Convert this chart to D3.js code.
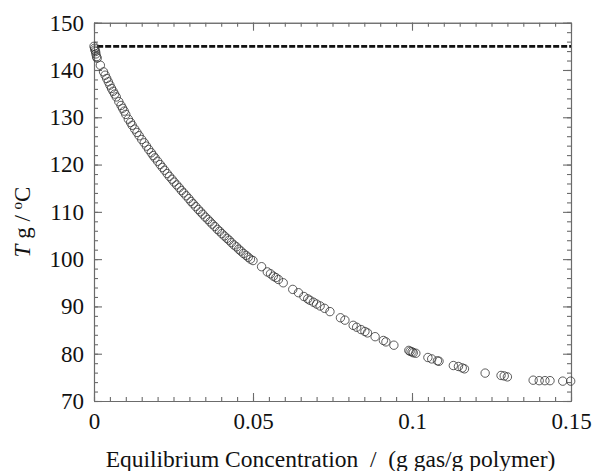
<!DOCTYPE html>
<html>
<head>
<meta charset="utf-8">
<script src="https://cdn.jsdelivr.net/npm/d3@7"></script>
<style>
  body { margin: 0; background: #fff; }
</style>
</head>
<body>
<div id="chart"></div>
<script>
// Equilibrium concentration (g gas / g polymer)
const conc = [
  0.0000, 0.0002, 0.0003, 0.0005, 0.0006, 0.0008, 0.0010, 0.0020, 0.0030, 0.0035,
  0.0040, 0.0045, 0.0050, 0.0055, 0.0060, 0.0065, 0.0070, 0.0078, 0.0085, 0.0090,
  0.0095, 0.0100, 0.0108, 0.0115, 0.0120, 0.0128, 0.0135, 0.0142, 0.0150, 0.0158,
  0.0165, 0.0172, 0.0180, 0.0186, 0.0192, 0.0200, 0.0208, 0.0215, 0.0222, 0.0230,
  0.0237, 0.0245, 0.0252, 0.0260, 0.0268, 0.0275, 0.0282, 0.0290, 0.0298, 0.0305,
  0.0312, 0.0320, 0.0328, 0.0335, 0.0342, 0.0350, 0.0358, 0.0365, 0.0372, 0.0380,
  0.0388, 0.0395, 0.0402, 0.0410, 0.0418, 0.0425, 0.0432, 0.0440, 0.0448, 0.0455,
  0.0462, 0.0470, 0.0478, 0.0485, 0.0492, 0.0500, 0.0527, 0.0545, 0.0555, 0.0564,
  0.0572, 0.0580, 0.0595, 0.0625, 0.0643, 0.0660, 0.0672, 0.0679, 0.0690, 0.0700,
  0.0711, 0.0725, 0.0742, 0.0775, 0.0789, 0.0815, 0.0826, 0.0840, 0.0852, 0.0860,
  0.0884, 0.0910, 0.0918, 0.0943, 0.0990, 0.0994, 0.1000, 0.1004, 0.1012, 0.1050,
  0.1062, 0.1080, 0.1085, 0.1130, 0.1146, 0.1158, 0.1165, 0.1230, 0.1280, 0.1290,
  0.1300, 0.1381, 0.1400, 0.1418, 0.1434, 0.1474, 0.1499
];
// Glass transition temperature (deg C)
const tg = [
  145.0, 144.6, 144.2, 143.9, 143.4, 142.8, 142.5, 141.0, 139.6, 138.9,
  138.2, 137.5, 136.8, 136.1, 135.5, 134.9, 134.3, 133.3, 132.5, 131.9,
  131.3, 130.6, 129.6, 128.9, 128.3, 127.5, 126.8, 126.1, 125.3, 124.6,
  123.9, 123.2, 122.5, 121.9, 121.4, 120.7, 120.0, 119.4, 118.8, 118.1,
  117.5, 116.9, 116.3, 115.7, 115.1, 114.5, 114.0, 113.4, 112.8, 112.2,
  111.7, 111.1, 110.5, 110.0, 109.5, 108.9, 108.4, 107.9, 107.4, 106.9,
  106.3, 105.9, 105.4, 104.9, 104.4, 104.0, 103.5, 103.0, 102.6, 102.1,
  101.7, 101.2, 100.8, 100.4, 100.0, 99.7, 98.4, 97.3, 96.9, 96.4,
  96.1, 95.7, 95.0, 93.6, 92.9, 92.1, 91.6, 91.3, 90.9, 90.5,
  90.1, 89.6, 88.9, 87.6, 87.1, 86.0, 85.6, 85.1, 84.7, 84.4,
  83.6, 82.8, 82.5, 81.8, 80.7, 80.5, 80.4, 80.2, 80.1, 79.2,
  78.9, 78.5, 78.4, 77.5, 77.3, 77.0, 76.8, 75.9, 75.4, 75.3,
  75.1, 74.4, 74.3, 74.3, 74.3, 74.2, 74.2
];
// Tg of the pure polymer (dashed reference line)
const tgPure = 145;

const xTicks = [0, 0.05, 0.1, 0.15];
const xTickLabels = ["0", "0.05", "0.1", "0.15"];
const yTicks = [70, 80, 90, 100, 110, 120, 130, 140, 150];

const width = 593, height = 471;
const margin = { top: 22.7, right: 22, bottom: 70, left: 94 };
const serif = "'Liberation Serif', 'Times New Roman', 'DejaVu Serif', serif";

const svg = d3.select("#chart").append("svg")
  .attr("width", width)
  .attr("height", height)
  .style("font-family", serif);

const x = d3.scaleLinear().domain([0, 0.15]).range([margin.left, width - margin.right]);
const y = d3.scaleLinear().domain([70, 150]).range([height - margin.bottom, margin.top]);

const xMinor = d3.range(0, 0.1501, 0.005);
const yMinor = d3.range(70, 150.01, 2);

// style helper for axes
function styleAxis(g) {
  g.attr("font-family", serif);
  g.selectAll("path.domain").attr("stroke", "#6b6b6b").attr("stroke-width", 1.1);
  g.selectAll(".tick line").attr("stroke", "#6b6b6b").attr("stroke-width", 1.1);
  g.selectAll("text").attr("font-size", 23).attr("fill", "#111").attr("font-family", serif);
}

// minor ticks
svg.append("g").attr("transform", `translate(0,${y(70)})`)
  .call(d3.axisBottom(x).tickValues(xMinor).tickSize(-4).tickSizeOuter(0).tickFormat(""))
  .call(styleAxis);
svg.append("g").attr("transform", `translate(0,${y(150)})`)
  .call(d3.axisTop(x).tickValues(xMinor).tickSize(-4).tickSizeOuter(0).tickFormat(""))
  .call(styleAxis);
svg.append("g").attr("transform", `translate(${x(0)},0)`)
  .call(d3.axisLeft(y).tickValues(yMinor).tickSize(-4).tickSizeOuter(0).tickFormat(""))
  .call(styleAxis);
svg.append("g").attr("transform", `translate(${x(0.15)},0)`)
  .call(d3.axisRight(y).tickValues(yMinor).tickSize(-4).tickSizeOuter(0).tickFormat(""))
  .call(styleAxis);

// major ticks with labels
svg.append("g").attr("transform", `translate(0,${y(70)})`)
  .call(d3.axisBottom(x).tickValues(xTicks).tickSize(-8).tickSizeOuter(0).tickPadding(12)
    .tickFormat((d, i) => xTickLabels[i]))
  .call(styleAxis);
svg.append("g").attr("transform", `translate(0,${y(150)})`)
  .call(d3.axisTop(x).tickValues(xTicks).tickSize(-8).tickSizeOuter(0).tickFormat(""))
  .call(styleAxis);
svg.append("g").attr("transform", `translate(${x(0)},0)`)
  .call(d3.axisLeft(y).tickValues(yTicks).tickSize(-8).tickSizeOuter(0).tickPadding(10)
    .tickFormat(d3.format("d")))
  .call(styleAxis);
svg.append("g").attr("transform", `translate(${x(0.15)},0)`)
  .call(d3.axisRight(y).tickValues(yTicks).tickSize(-8).tickSizeOuter(0).tickFormat(""))
  .call(styleAxis);

// dashed line at pure polymer Tg
svg.append("line")
  .attr("x1", x(0.001)).attr("x2", x(0.15))
  .attr("y1", y(tgPure)).attr("y2", y(tgPure))
  .attr("stroke", "#111")
  .attr("stroke-width", 2.8)
  .attr("stroke-dasharray", "6,2");

// data points
const points = conc.map((c, i) => ({ c: c, t: tg[i] }));
svg.append("g").selectAll("circle")
  .data(points)
  .enter()
  .append("circle")
  .attr("cx", d => x(d.c))
  .attr("cy", d => y(d.t))
  .attr("r", 4.2)
  .attr("fill", "none")
  .attr("stroke", "#333")
  .attr("stroke-width", 0.8);

// axis titles
svg.append("text")
  .attr("x", (x(0) + x(0.15)) / 2 - 2)
  .attr("y", 467)
  .attr("text-anchor", "middle")
  .attr("font-size", 23.5)
  .attr("fill", "#111")
  .attr("font-family", serif)
  .style("white-space", "pre")
  .text("Equilibrium Concentration  /  (g gas/g polymer)");

const yt = svg.append("text")
  .attr("transform", "translate(30,222) rotate(-90)")
  .attr("text-anchor", "middle")
  .attr("font-size", 23)
  .attr("fill", "#111")
  .attr("font-family", serif)
  .style("white-space", "pre");
yt.append("tspan").attr("font-style", "italic").text("T");
yt.append("tspan").text(" g / ");
yt.append("tspan").attr("font-size", 15).attr("dy", -8).text("o");
yt.append("tspan").attr("dy", 8).text("C");
</script>
</body>
</html>
